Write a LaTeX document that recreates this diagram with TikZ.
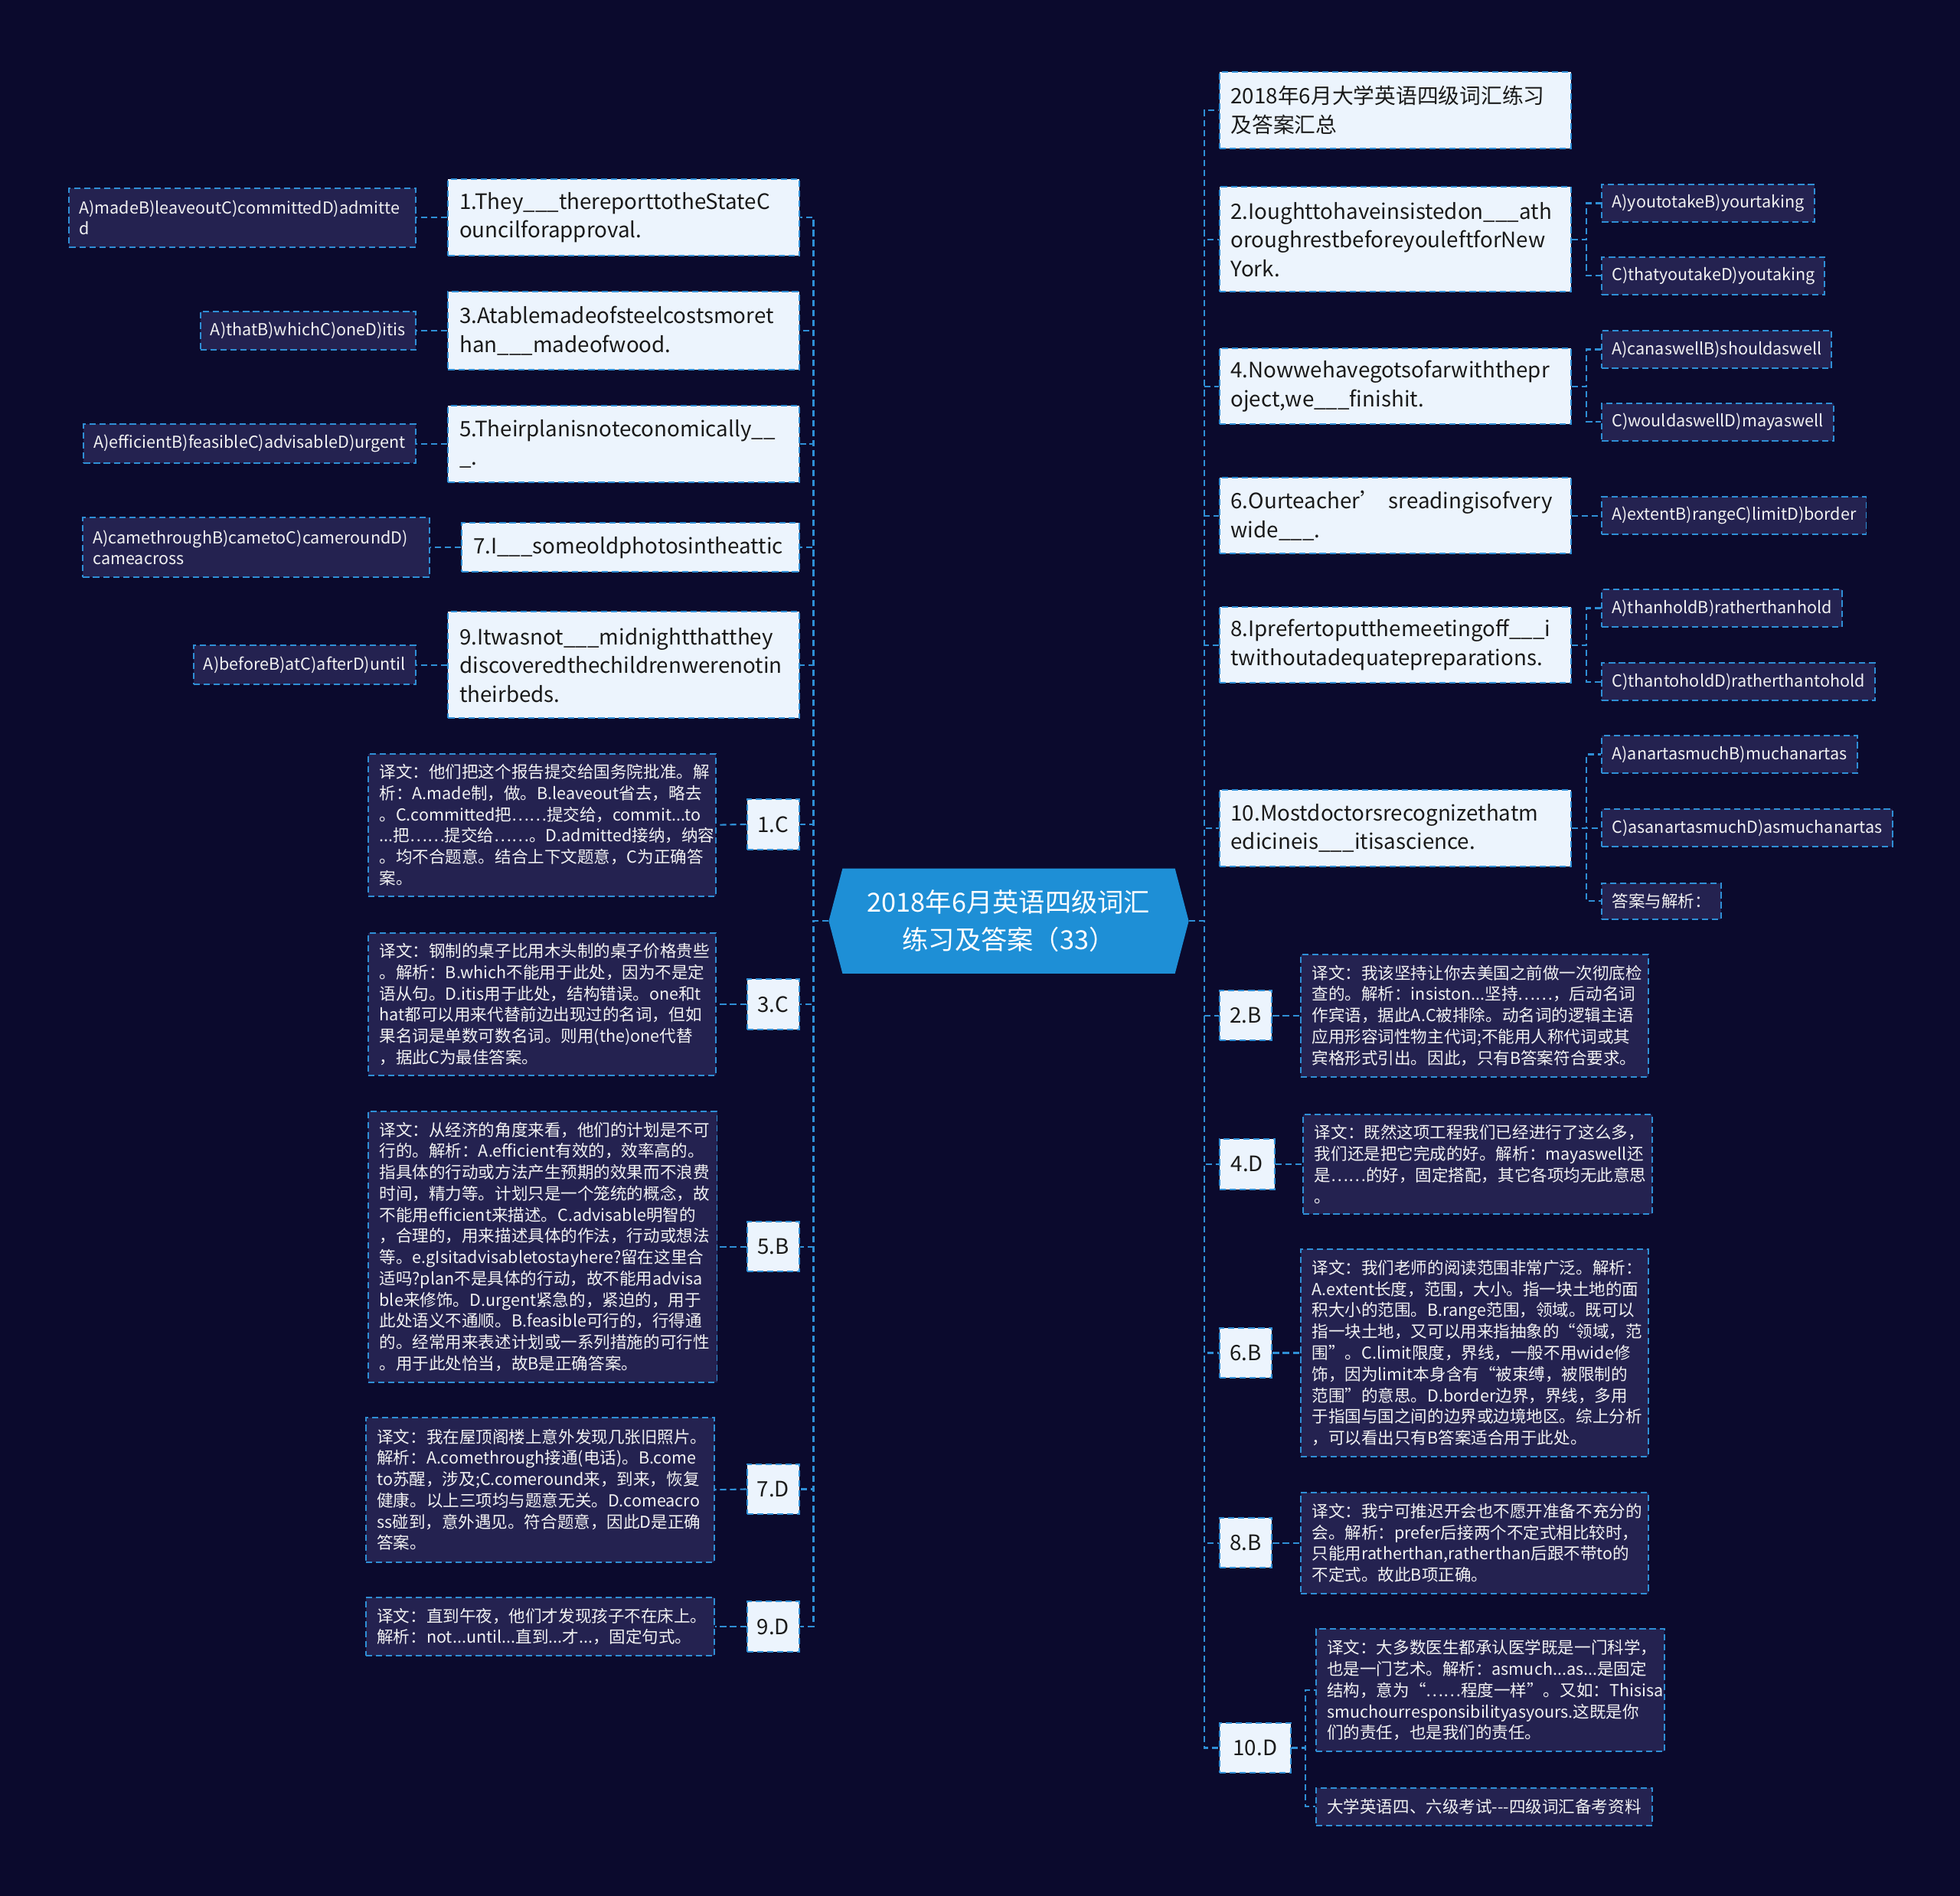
\documentclass[tikz,border=0pt]{standalone}
\usepackage{fontspec}
\setmainfont{Noto Sans CJK SC}
\lefthyphenmin=62
\definecolor{bgc}{HTML}{0B0A2D}
\definecolor{linec}{HTML}{2F8FD6}
\definecolor{darkf}{HTML}{242250}
\definecolor{lightf}{HTML}{ECF4FD}
\definecolor{rootf}{HTML}{1E8FD6}
\definecolor{qtextc}{HTML}{1A1A1A}
\definecolor{ntextc}{HTML}{F2F2F2}
\newcommand\fontQ{\fontsize{17}{23}\selectfont}
\newcommand\fontN{\fontsize{13.2}{17}\selectfont}
\newcommand\fontO{\fontsize{13.2}{17}\selectfont}
\newcommand\fontR{\fontsize{21}{30}\selectfont}
\tikzset{
 conn/.style={draw=linec, line width=1.3pt, dash pattern=on 5pt off 3pt},
 boxbase/.style={draw=linec, line width=1.2pt, dash pattern=on 5pt off 3pt, anchor=north west, inner ysep=2pt, align=left},
 qbox/.style={boxbase, fill=lightf, text=qtextc, font=\fontQ, inner xsep=9pt},
 abox/.style={boxbase, fill=lightf, text=qtextc, font=\fontQ, inner xsep=0pt, align=center, minimum height=40pt},
 nbox/.style={boxbase, fill=darkf, text=ntextc, font=\fontN, inner xsep=9pt},
 obox/.style={boxbase, fill=darkf, text=ntextc, font=\fontO, inner xsep=8pt},
 oleft/.style={obox, anchor=north east},
}
\begin{document}
\begin{tikzpicture}[x=1pt,y=-1pt]
\fill[bgc] (0,0) rectangle (1568,1517);
\useasboundingbox (0,0) rectangle (1568,1517);

% root
\fill[rootf] (674,695) -- (940,695) -- (951,737) -- (940,779) -- (674,779) -- (663,737) -- cycle;
\node[font=\fontR, text=white, align=center, minimum width=288pt, minimum height=84pt, inner sep=0pt] (root) at (807,737) {2018年6月英语四级词汇\\练习及答案（33）};

% ---------- left questions ----------
\node[qbox, text width=263pt, minimum height=61pt] (q1) at (358,143) {1.They\_\_\_thereporttotheStateC\\ouncilforapproval.};
\node[qbox, text width=263pt, minimum height=62pt] (q3) at (358,233) {3.Atablemadeofsteelcostsmoret\\han\_\_\_madeofwood.};
\node[qbox, text width=263pt, minimum height=61pt] (q5) at (358,324) {5.Theirplanisnoteconomically\_\_\\\_.};
\node[qbox, text width=252pt, minimum height=39pt] (q7) at (369,418) {7.I\_\_\_someoldphotosintheattic};
\node[qbox, text width=263pt, minimum height=85pt] (q9) at (358,489) {9.Itwasnot\_\_\_midnightthatthey\\discoveredthechildrenwerenotin\\theirbeds.};

\node[oleft, minimum height=47pt, text width=261pt] (o1) at (333,150) {A)madeB)leaveoutC)committedD)admitte\\d};
\node[oleft, minimum height=31pt] (o3) at (333,248.5) {A)thatB)whichC)oneD)itis};
\node[oleft, minimum height=31pt] (o5) at (333,339) {A)efficientB)feasibleC)advisableD)urgent};
\node[oleft, minimum height=48pt, text width=261pt] (o7) at (344,413.5) {A)camethroughB)cametoC)cameroundD)\\cameacross};
\node[oleft, minimum height=31pt] (o9) at (333,516) {A)beforeB)atC)afterD)until};

% ---------- left answers ----------
\node[abox, minimum width=42pt] (a1) at (597,639) {1.C};
\node[abox, minimum width=42pt] (a3) at (597,783) {3.C};
\node[abox, minimum width=42pt] (a5) at (597,977) {5.B};
\node[abox, minimum width=42pt] (a7) at (597,1171) {7.D};
\node[abox, minimum width=42pt] (a9) at (597,1281) {9.D};

\node[nbox, text width=260pt, minimum height=114pt] (n1) at (294,602.5) {译文：他们把这个报告提交给国务院批准。解\\析：A.made制，做。B.leaveout省去，略去\\。C.committed把……提交给，commit...to\\...把……提交给……。D.admitted接纳，纳容\\。均不合题意。结合上下文题意，C为正确答\\案。};
\node[nbox, text width=260pt, minimum height=114pt] (n3) at (294,746) {译文：钢制的桌子比用木头制的桌子价格贵些\\。解析：B.which不能用于此处，因为不是定\\语从句。D.itis用于此处，结构错误。one和t\\hat都可以用来代替前边出现过的名词，但如\\果名词是单数可数名词。则用(the)one代替\\，据此C为最佳答案。};
\node[nbox, text width=261pt, minimum height=217pt] (n5) at (294,888.5) {译文：从经济的角度来看，他们的计划是不可\\行的。解析：A.efficient有效的，效率高的。\\指具体的行动或方法产生预期的效果而不浪费\\时间，精力等。计划只是一个笼统的概念，故\\不能用efficient来描述。C.advisable明智的\\，合理的，用来描述具体的作法，行动或想法\\等。e.gIsitadvisabletostayhere?留在这里合\\适吗?plan不是具体的行动，故不能用advisa\\ble来修饰。D.urgent紧急的，紧迫的，用于\\此处语义不通顺。B.feasible可行的，行得通\\的。经常用来表述计划或一系列措施的可行性\\。用于此处恰当，故B是正确答案。};
\node[nbox, text width=261pt, minimum height=116pt] (n7) at (292,1133.5) {译文：我在屋顶阁楼上意外发现几张旧照片。\\解析：A.comethrough接通(电话)。B.come\\to苏醒，涉及;C.comeround来，到来，恢复\\健康。以上三项均与题意无关。D.comeacro\\ss碰到，意外遇见。符合题意，因此D是正确\\答案。};
\node[nbox, text width=261pt, minimum height=47pt] (n9) at (292,1277.5) {译文：直到午夜，他们才发现孩子不在床上。\\解析：not...until...直到...才...，固定句式。};

% ---------- right questions ----------
\node[qbox, text width=263pt, minimum height=61pt] (t0) at (975,57) {2018年6月大学英语四级词汇练习\\及答案汇总};
\node[qbox, text width=263pt, minimum height=84pt] (q2) at (975,149) {2.Ioughttohaveinsistedon\_\_\_ath\\oroughrestbeforeyouleftforNew\\York.};
\node[qbox, text width=263pt, minimum height=61pt] (q4) at (975,278) {4.Nowwehavegotsofarwiththepr\\oject,we\_\_\_finishit.};
\node[qbox, text width=263pt, minimum height=61pt] (q6) at (975,381.5) {6.Ourteacher’ sreadingisofvery\\wide\_\_\_.};
\node[qbox, text width=263pt, minimum height=61pt] (q8) at (975,485) {8.Iprefertoputthemeetingoff\_\_\_i\\twithoutadequatepreparations.};
\node[qbox, text width=263pt, minimum height=61pt] (q10) at (975,631.5) {10.Mostdoctorsrecognizethatm\\edicineis\_\_\_itisascience.};

\node[obox, minimum height=30pt] (o2a) at (1281,147) {A)youtotakeB)yourtaking};
\node[obox, minimum height=30pt] (o2b) at (1281,205) {C)thatyoutakeD)youtaking};
\node[obox, minimum height=30pt] (o4a) at (1281,264) {A)canaswellB)shouldaswell};
\node[obox, minimum height=30pt] (o4b) at (1281,322) {C)wouldaswellD)mayaswell};
\node[obox, minimum height=30pt] (o6) at (1281,397) {A)extentB)rangeC)limitD)border};
\node[obox, minimum height=30pt] (o8a) at (1281,471) {A)thanholdB)ratherthanhold};
\node[obox, minimum height=30pt] (o8b) at (1281,530) {C)thantoholdD)ratherthantohold};
\node[obox, minimum height=30pt] (o10a) at (1281,588) {A)anartasmuchB)muchanartas};
\node[obox, minimum height=30pt] (o10b) at (1281,647) {C)asanartasmuchD)asmuchanartas};
\node[obox, minimum height=29pt] (o10c) at (1281,706) {答案与解析：};

% ---------- right answers ----------
\node[abox, minimum width=42pt] (a2) at (975,792) {2.B};
\node[abox, minimum width=44pt] (a4) at (975,911) {4.D};
\node[abox, minimum width=42pt] (a6) at (975,1062) {6.B};
\node[abox, minimum width=42pt] (a8) at (975,1214) {8.B};
\node[abox, minimum width=57pt] (a10) at (975,1378) {10.D};

\node[nbox, text width=260pt, minimum height=98pt] (n2) at (1040,763) {译文：我该坚持让你去美国之前做一次彻底检\\查的。解析：insiston...坚持……，后动名词\\作宾语，据此A.C被排除。动名词的逻辑主语\\应用形容词性物主代词;不能用人称代词或其\\宾格形式引出。因此，只有B答案符合要求。};
\node[nbox, text width=261pt, minimum height=80pt] (n4) at (1042,891) {译文：既然这项工程我们已经进行了这么多，\\我们还是把它完成的好。解析：mayaswell还\\是……的好，固定搭配，其它各项均无此意思\\。};
\node[nbox, text width=260pt, minimum height=166pt] (n6) at (1040,999) {译文：我们老师的阅读范围非常广泛。解析：\\A.extent长度，范围，大小。指一块土地的面\\积大小的范围。B.range范围，领域。既可以\\指一块土地，又可以用来指抽象的“领域，范\\围”。C.limit限度，界线，一般不用wide修\\饰，因为limit本身含有“被束缚，被限制的\\范围”的意思。D.border边界，界线，多用\\于指国与国之间的边界或边境地区。综上分析\\，可以看出只有B答案适合用于此处。};
\node[nbox, text width=260pt, minimum height=81pt] (n8) at (1040,1193.5) {译文：我宁可推迟开会也不愿开准备不充分的\\会。解析：prefer后接两个不定式相比较时，\\只能用ratherthan,ratherthan后跟不带to的\\不定式。故此B项正确。};
\node[nbox, text width=261pt, minimum height=98pt] (n10) at (1052,1303) {译文：大多数医生都承认医学既是一门科学，\\也是一门艺术。解析：asmuch...as...是固定\\结构，意为“……程度一样”。又如：Thisisa\\smuchourresponsibilityasyours.这既是你\\们的责任，也是我们的责任。};
\node[nbox, minimum height=30pt] (n10b) at (1052,1430) {大学英语四、六级考试-{}-{}-四级词汇备考资料};

% ---------- connectors ----------
\foreach \c in {q1,q3,q5,q7,q9,a1,a3,a5,a7,a9}
  \draw[conn] (root.west) -- ++(-12,0) |- (\c.east);
\foreach \c in {t0,q2,q4,q6,q8,q10,a2,a4,a6,a8,a10}
  \draw[conn] (root.east) -- ++(12,0) |- (\c.west);

\draw[conn] (q1.west) -- (o1.east);
\draw[conn] (q3.west) -- (o3.east);
\draw[conn] (q5.west) -- (o5.east);
\draw[conn] (q7.west) -- (o7.east);
\draw[conn] (q9.west) -- (o9.east);
\draw[conn] (a1.west) -- (n1.east);
\draw[conn] (a3.west) -- (n3.east);
\draw[conn] (a5.west) -- (n5.east);
\draw[conn] (a7.west) -- (n7.east);
\draw[conn] (a9.west) -- (n9.east);

\foreach \p/\c in {q2/o2a,q2/o2b,q4/o4a,q4/o4b,q8/o8a,q8/o8b,q10/o10a,q10/o10b,q10/o10c}
  \draw[conn] (\p.east) -- ++(12,0) |- (\c.west);
\draw[conn] (q6.east) -- (o6.west);
\draw[conn] (a2.east) -- (n2.west);
\draw[conn] (a4.east) -- (n4.west);
\draw[conn] (a6.east) -- (n6.west);
\draw[conn] (a8.east) -- (n8.west);
\draw[conn] (a10.east) -- ++(11,0) |- (n10.west);
\draw[conn] (a10.east) -- ++(11,0) |- (n10b.west);
\end{tikzpicture}
\end{document}
